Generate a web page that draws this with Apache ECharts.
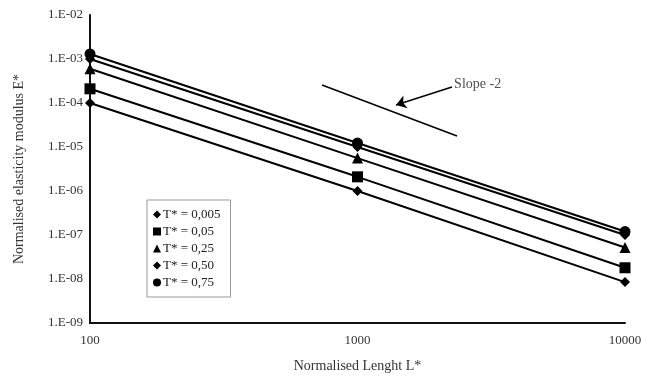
<!DOCTYPE html>
<html><head><meta charset="utf-8">
<script src="https://cdn.jsdelivr.net/npm/echarts@6/dist/echarts.min.js"></script>
<style>html,body{margin:0;padding:0;background:#fff}#c{width:668px;height:386px}</style>
</head><body><div id="c"></div>
<script>
const lengths = [100, 1000, 10000];
const seriesNames = ['T* = 0,005', 'T* = 0,05', 'T* = 0,25', 'T* = 0,50', 'T* = 0,75'];
const symbols = ['diamond', 'rect', 'triangle', 'diamond', 'circle'];
const t0005 = [1.0e-4, 1.0e-6, 8.5e-9];
const t005 = [2.1e-4, 2.1e-6, 1.8e-8];
const t025 = [6.0e-4, 5.6e-6, 5.2e-8];
const t050 = [1.0e-3, 1.0e-5, 1.0e-7];
const t075 = [1.3e-3, 1.23e-5, 1.2e-7];
const yTicks = ['1.E-09','1.E-08','1.E-07','1.E-06','1.E-05','1.E-04','1.E-03','1.E-02'];
const slopeLine = [[737, 2.57e-4], [2355, 1.78e-5]];
const arrowLine = [[2255, 2.31e-4], [1393, 9.0e-5]];
const slopeLabel = [[2200, 2.7e-4]];

const font = '"Liberation Serif", "DejaVu Serif", serif';
const all = [t0005, t005, t025, t050, t075];
const series = all.map((vals, i) => ({
  name: seriesNames[i], type: 'line',
  data: vals.map((v, j) => [lengths[j], v]),
  symbol: symbols[i], symbolSize: symbols[i] === 'diamond' ? 10 : 11,
  lineStyle: { color: '#000', width: 2 },
  itemStyle: { color: '#000' },
  z: 3 + i
}));
series.push({
  type: 'line', data: slopeLine, symbol: 'none',
  lineStyle: { color: '#000', width: 1.5 }, silent: true,
  markLine: {
    silent: true, symbol: ['none', 'arrow'], symbolSize: 10,
    lineStyle: { color: '#000', width: 1.5, type: 'solid' },
    label: { show: false },
    data: [[{ coord: arrowLine[0] }, { coord: arrowLine[1] }]]
  }
});
series.push({
  type: 'scatter', data: slopeLabel, symbolSize: 0,
  label: { show: true, position: 'right', formatter: 'Slope -2', color: '#222', fontFamily: font, fontSize: 14 },
  silent: true
});

const chart = echarts.init(document.getElementById('c'));
chart.setOption({
  animation: false,
  grid: { left: 90, right: 43, top: 15, bottom: 63 },
  legend: {
    data: seriesNames.map((n, i) => ({ name: n, icon: symbols[i] })),
    orient: 'vertical', left: 147, top: 200, width: 90,
    padding: [8, 10, 8, 6],
    itemWidth: 8, itemHeight: 8, itemGap: 4,
    borderColor: '#999', borderWidth: 1,
    textStyle: { fontFamily: font, fontSize: 13, color: '#222', padding: [4, 0, 0, -3] },
    itemStyle: { color: '#000' }
  },
  xAxis: {
    type: 'log', logBase: 10, min: 100, max: 10000,
    name: 'Normalised Lenght L*', nameLocation: 'middle', nameGap: 36,
    nameTextStyle: { fontFamily: font, fontSize: 14, color: '#333' },
    axisLine: { lineStyle: { color: '#111', width: 2 } },
    axisTick: { show: false }, splitLine: { show: false },
    axisLabel: { fontFamily: font, fontSize: 13, color: '#333', margin: 11,
      formatter: v => String(Math.round(v)) }
  },
  yAxis: {
    type: 'log', logBase: 10, min: 1e-9, max: 1e-2,
    name: 'Normalised elasticity modulus E*', nameLocation: 'middle', nameGap: 64,
    nameTextStyle: { fontFamily: font, fontSize: 14, color: '#333' },
    axisLine: { show: true, lineStyle: { color: '#111', width: 2 } },
    axisTick: { show: false }, splitLine: { show: false },
    axisLabel: { fontFamily: font, fontSize: 13, color: '#333', margin: 7,
      formatter: v => yTicks[Math.round(Math.log10(v)) + 9] }
  },
  series
});
</script></body></html>
